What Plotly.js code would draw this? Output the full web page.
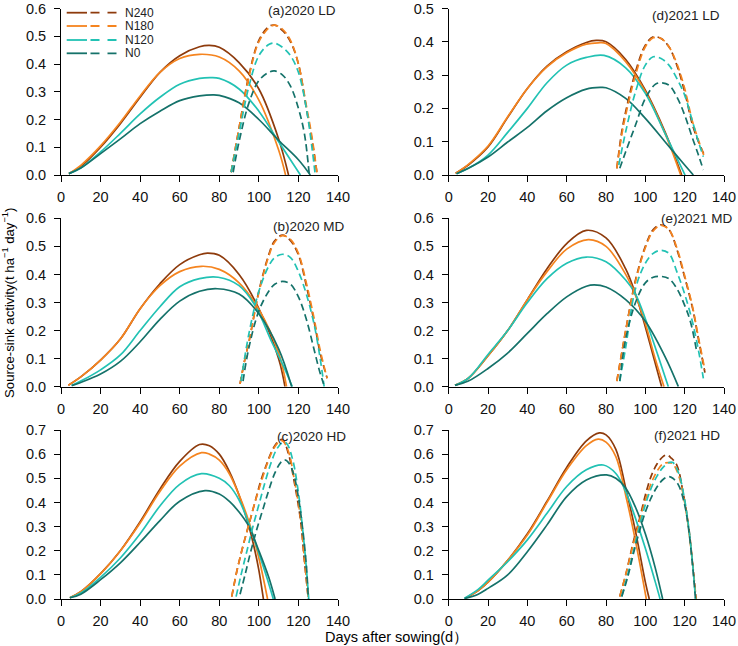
<!DOCTYPE html>
<html>
<head>
<meta charset="utf-8">
<script src="https://cdn.plot.ly/plotly-3.0.1.min.js"></script>
<style>html,body{margin:0;padding:0;background:#fff;}#chart{width:738px;height:646px;}</style>
</head>
<body>
<div id="chart"></div>
<script>
// ---------- series meta ----------
const nLevels = ['N240', 'N180', 'N120', 'N0'];
const lineColors = ['#8E3B0C', '#F5841F', '#22C2B4', '#15726A'];
const xTicks = [0, 20, 40, 60, 80, 100, 120, 140];
const yTicks05 = [0, 0.1, 0.2, 0.3, 0.4, 0.5];
const yTicks06 = [0, 0.1, 0.2, 0.3, 0.4, 0.5, 0.6];
const yTicks07 = [0, 0.1, 0.2, 0.3, 0.4, 0.5, 0.6, 0.7];

// ---------- (a) 2020 LD ----------
const a_src_N240_d = [4,10,20,30,40,50,60,70,75,80,90,100,110,115];
const a_src_N240_v = [0.005,0.03,0.10,0.185,0.28,0.37,0.43,0.462,0.467,0.46,0.405,0.31,0.13,0.0];
const a_src_N180_d = [4,10,20,30,40,50,60,70,80,90,100,110,113.5];
const a_src_N180_v = [0.005,0.035,0.105,0.19,0.285,0.37,0.42,0.435,0.425,0.375,0.27,0.09,0.0];
const a_src_N120_d = [4,10,20,30,40,50,60,70,76,80,90,100,110,121];
const a_src_N120_v = [0.005,0.025,0.083,0.15,0.22,0.28,0.327,0.348,0.351,0.348,0.31,0.23,0.12,0.0];
const a_src_N0_d = [4,10,20,30,40,50,60,70,77,80,90,100,110,120,126];
const a_src_N0_v = [0.005,0.025,0.077,0.13,0.185,0.23,0.268,0.285,0.289,0.287,0.26,0.20,0.125,0.055,0.0];
const a_snk_N240_d = [86,90,95,100,105,108,112,116,120,124,127,129.5];
const a_snk_N240_v = [0.01,0.17,0.36,0.485,0.535,0.54,0.52,0.48,0.40,0.24,0.12,0.0];
const a_snk_N180_d = [86,90,95,100,105,108,112,116,120,124,127,129.5];
const a_snk_N180_v = [0.01,0.17,0.355,0.48,0.53,0.54,0.525,0.485,0.40,0.25,0.13,0.0];
const a_snk_N120_d = [86,90,95,100,105,108,112,116,120,124,127,128.5];
const a_snk_N120_v = [0.01,0.15,0.32,0.43,0.47,0.475,0.46,0.43,0.37,0.24,0.09,0.0];
const a_snk_N0_d = [87,90,95,100,105,108,112,116,120,123,125.5];
const a_snk_N0_v = [0.01,0.12,0.26,0.34,0.37,0.375,0.36,0.32,0.24,0.15,0.0];

// ---------- (d) 2021 LD ----------
const d_src_N240_d = [3.5,10,20,30,40,50,60,70,75,80,90,100,110,118.5];
const d_src_N240_v = [0.005,0.03,0.084,0.173,0.26,0.327,0.37,0.398,0.404,0.40,0.347,0.255,0.13,0.0];
const d_src_N180_d = [3.5,10,20,30,40,50,60,70,76,80,90,100,110,118];
const d_src_N180_v = [0.005,0.032,0.087,0.175,0.26,0.325,0.367,0.393,0.397,0.395,0.34,0.25,0.125,0.0];
const d_src_N120_d = [4,10,20,30,40,50,60,70,79,90,100,110,120.2];
const d_src_N120_v = [0.004,0.02,0.06,0.128,0.20,0.277,0.33,0.353,0.359,0.322,0.245,0.125,0.0];
const d_src_N0_d = [4,10,20,30,40,50,60,70,77,80,90,100,110,120,124.4];
const d_src_N0_v = [0.004,0.02,0.054,0.099,0.143,0.193,0.232,0.258,0.263,0.262,0.23,0.17,0.10,0.03,0.0];
const d_snk_N240_d = [85.5,88,90,95,100,104,108,112,116,120,124,127,130];
const d_snk_N240_v = [0.02,0.13,0.19,0.31,0.39,0.415,0.41,0.385,0.33,0.25,0.15,0.10,0.06];
const d_snk_N180_d = [85.5,88,90,95,100,104,108,112,116,120,124,127,130];
const d_snk_N180_v = [0.02,0.12,0.18,0.30,0.385,0.412,0.41,0.385,0.335,0.26,0.16,0.105,0.055];
const d_snk_N120_d = [86.5,90,95,100,104,108,112,116,120,124,127,129.5];
const d_snk_N120_v = [0.03,0.13,0.25,0.33,0.355,0.35,0.33,0.29,0.24,0.16,0.10,0.055];
const d_snk_N0_d = [87,90,95,100,105,108,112,116,120,124,127,129.5];
const d_snk_N0_v = [0.02,0.07,0.15,0.23,0.272,0.277,0.27,0.235,0.18,0.11,0.06,0.015];

// ---------- (b) 2020 MD ----------
const b_src_N240_d = [3.7,10,20,30,40,50,60,70,74,80,90,100,110,113.2];
const b_src_N240_v = [0.005,0.035,0.095,0.17,0.278,0.367,0.435,0.47,0.476,0.468,0.40,0.278,0.10,0.0];
const b_src_N180_d = [3.7,10,20,30,40,50,60,71,80,90,100,110,114];
const b_src_N180_v = [0.005,0.035,0.095,0.17,0.278,0.36,0.41,0.429,0.418,0.37,0.275,0.12,0.0];
const b_src_N120_d = [5.4,10,20,30,40,50,60,70,79.5,90,98,106.5,112,116.9];
const b_src_N120_v = [0.004,0.02,0.06,0.113,0.20,0.285,0.356,0.385,0.39,0.36,0.29,0.16,0.08,0.0];
const b_src_N0_d = [5.4,10,20,30,40,50,60,70,79,90,100,110,116.6];
const b_src_N0_v = [0.004,0.015,0.045,0.09,0.16,0.24,0.305,0.34,0.349,0.33,0.26,0.135,0.0];
const b_snk_N240_d = [90.5,93,95,100,105,108,112,116,120,124,128,131,134.5];
const b_snk_N240_v = [0.01,0.10,0.16,0.34,0.47,0.52,0.54,0.52,0.47,0.36,0.23,0.12,0.03];
const b_snk_N180_d = [90.5,93,95,100,105,108,112,116,120,124,128,131,134.5];
const b_snk_N180_v = [0.01,0.10,0.16,0.335,0.465,0.515,0.538,0.525,0.475,0.37,0.24,0.13,0.03];
const b_snk_N120_d = [91,95,100,105,108,112,116,120,124,128,131,133];
const b_snk_N120_v = [0.02,0.19,0.34,0.43,0.46,0.472,0.46,0.41,0.33,0.22,0.10,0.0];
const b_snk_N0_d = [92,95,100,105,108,112,116,120,124,128,130.5,132.7];
const b_snk_N0_v = [0.02,0.14,0.27,0.34,0.365,0.375,0.365,0.32,0.24,0.13,0.06,0.01];

// ---------- (e) 2021 MD ----------
const e_src_N240_d = [3.2,10,20,30,40,50,60,70,80,90,95,100,104,108.3];
const e_src_N240_v = [0.005,0.03,0.11,0.20,0.31,0.42,0.51,0.557,0.53,0.42,0.33,0.213,0.11,0.0];
const e_src_N180_d = [3.2,10,20,30,40,50,60,71,80,90,95,100,105,109.5];
const e_src_N180_v = [0.005,0.03,0.11,0.20,0.31,0.41,0.49,0.524,0.50,0.40,0.325,0.225,0.10,0.0];
const e_src_N120_d = [3.2,10,20,30,40,50,60,70,80,90,95,100,106,111.7];
const e_src_N120_v = [0.005,0.03,0.115,0.20,0.30,0.385,0.44,0.462,0.445,0.38,0.33,0.242,0.12,0.0];
const e_src_N0_d = [3.2,10,20,30,40,50,60,70,74,80,90,100,110,116.8];
const e_src_N0_v = [0.005,0.02,0.065,0.12,0.19,0.26,0.32,0.358,0.363,0.355,0.31,0.233,0.107,0.0];
const e_snk_N240_d = [85.5,88,90,95,100,104,108,112,116,120,124,127,130.3];
const e_snk_N240_v = [0.02,0.12,0.20,0.38,0.50,0.56,0.577,0.56,0.49,0.39,0.28,0.17,0.05];
const e_snk_N180_d = [85.5,88,90,95,100,104,108,112,116,120,124,127,130.3];
const e_snk_N180_v = [0.02,0.12,0.20,0.375,0.495,0.555,0.575,0.56,0.495,0.395,0.285,0.175,0.06];
const e_snk_N120_d = [87,90,95,100,104,108,112,116,120,124,127,129.5];
const e_snk_N120_v = [0.02,0.14,0.35,0.44,0.475,0.486,0.475,0.41,0.33,0.23,0.13,0.03];
const e_snk_N0_d = [87,90,95,100,104,108,112,116,120,123,126];
const e_snk_N0_v = [0.02,0.17,0.30,0.37,0.39,0.393,0.385,0.35,0.29,0.23,0.13];

// ---------- (c) 2020 HD ----------
const c_src_N240_d = [4.5,10,20,30,40,50,60,70,75,80,85,90,95,98,100,102.3];
const c_src_N240_v = [0.005,0.03,0.105,0.2,0.32,0.455,0.57,0.64,0.635,0.60,0.53,0.43,0.30,0.2,0.12,0.0];
const c_src_N180_d = [4.5,10,20,30,40,50,60,71,75,80,85,90,95,100,104.4];
const c_src_N180_v = [0.005,0.03,0.105,0.2,0.315,0.445,0.55,0.606,0.60,0.575,0.52,0.43,0.32,0.17,0.0];
const c_src_N120_d = [4.5,10,20,30,40,50,60,71,80,85,90,95,100,104,107.3];
const c_src_N120_v = [0.005,0.025,0.09,0.17,0.27,0.385,0.475,0.519,0.50,0.47,0.41,0.31,0.19,0.09,0.0];
const c_src_N0_d = [4.5,10,20,30,40,50,60,72.8,80,85,90,95,100,105,108.2];
const c_src_N0_v = [0.005,0.02,0.08,0.15,0.235,0.325,0.405,0.449,0.435,0.405,0.36,0.30,0.20,0.09,0.0];
const c_snk_N240_d = [86.3,89,92,95,98,101,104,107,110,112,115,118,121,123,125];
const c_snk_N240_v = [0.01,0.12,0.22,0.31,0.40,0.49,0.56,0.62,0.655,0.66,0.60,0.48,0.33,0.16,0.0];
const c_snk_N180_d = [86.3,89,92,95,98,101,104,107,110,112,115,118,121,123,125];
const c_snk_N180_v = [0.01,0.12,0.22,0.31,0.40,0.48,0.555,0.615,0.65,0.655,0.61,0.49,0.34,0.17,0.0];
const c_snk_N120_d = [88.5,91,94,97,100,103,106,109,112,114,117,120,122,124,125.2];
const c_snk_N120_v = [0.01,0.1,0.2,0.3,0.39,0.48,0.56,0.62,0.648,0.645,0.58,0.44,0.3,0.13,0.0];
const c_snk_N0_d = [90.5,93,96,99,102,105,108,111,113,115,117.5,120,122,124,125];
const c_snk_N0_v = [0.02,0.1,0.2,0.29,0.37,0.45,0.52,0.565,0.576,0.565,0.52,0.42,0.3,0.14,0.0];

// ---------- (f) 2021 HD ----------
const f_src_N240_d = [8.5,15,20,30,40,50,60,70,76.6,80,85,90,95,100,102];
const f_src_N240_v = [0.003,0.035,0.07,0.16,0.27,0.405,0.545,0.655,0.688,0.68,0.62,0.46,0.28,0.07,0.0];
const f_src_N180_d = [8.5,15,20,30,40,50,60,70,76,80,85,90,95,100.5];
const f_src_N180_v = [0.003,0.035,0.07,0.16,0.265,0.40,0.535,0.635,0.662,0.65,0.59,0.43,0.24,0.0];
const f_src_N120_d = [8,15,20,30,40,50,60,70,78.6,85,90,95,100,105,107.5];
const f_src_N120_v = [0.003,0.04,0.078,0.155,0.245,0.355,0.466,0.535,0.555,0.52,0.445,0.334,0.21,0.072,0.0];
const f_src_N0_d = [8,15,20,30,40,50,60,70,80.3,85,90,95,100,105,108.8];
const f_src_N0_v = [0.002,0.02,0.044,0.10,0.196,0.307,0.424,0.493,0.514,0.50,0.46,0.38,0.27,0.13,0.0];
const f_snk_N240_d = [87,90,94,97,100,103,106,109,111,113,116,119,122,124,125.8];
const f_snk_N240_v = [0.01,0.1,0.24,0.33,0.43,0.51,0.56,0.59,0.597,0.585,0.555,0.45,0.3,0.15,0.0];
const f_snk_N180_d = [87,90,94,97,100,103,106,109,112,114,117,120,122,124,125.8];
const f_snk_N180_v = [0.01,0.1,0.23,0.32,0.41,0.48,0.53,0.56,0.565,0.56,0.51,0.4,0.29,0.15,0.0];
const f_snk_N120_d = [88,91,94,97,100,103,106,109,112,114,117,120,122,124,125.5];
const f_snk_N120_v = [0.01,0.1,0.2,0.3,0.39,0.46,0.51,0.545,0.565,0.565,0.52,0.41,0.3,0.15,0.0];
const f_snk_N0_d = [88,91,94,97,100,103,106,109,112,114,117,120,122,124,125.5];
const f_snk_N0_v = [0.01,0.09,0.19,0.28,0.36,0.42,0.465,0.495,0.507,0.5,0.47,0.39,0.29,0.14,0.0];

// ---------- panel labels / y axes ----------
const panelLabels = ['(a)2020 LD', '(d)2021 LD', '(b)2020 MD', '(e)2021 MD', '(c)2020 HD', '(f)2021 HD'];
const yTickSets = [yTicks06, yTicks05, yTicks06, yTicks06, yTicks07, yTicks07];

// ---------- assemble ----------
const panels = [
  {src: [[a_src_N240_d,a_src_N240_v],[a_src_N180_d,a_src_N180_v],[a_src_N120_d,a_src_N120_v],[a_src_N0_d,a_src_N0_v]],
   snk: [[a_snk_N240_d,a_snk_N240_v],[a_snk_N180_d,a_snk_N180_v],[a_snk_N120_d,a_snk_N120_v],[a_snk_N0_d,a_snk_N0_v]]},
  {src: [[d_src_N240_d,d_src_N240_v],[d_src_N180_d,d_src_N180_v],[d_src_N120_d,d_src_N120_v],[d_src_N0_d,d_src_N0_v]],
   snk: [[d_snk_N240_d,d_snk_N240_v],[d_snk_N180_d,d_snk_N180_v],[d_snk_N120_d,d_snk_N120_v],[d_snk_N0_d,d_snk_N0_v]]},
  {src: [[b_src_N240_d,b_src_N240_v],[b_src_N180_d,b_src_N180_v],[b_src_N120_d,b_src_N120_v],[b_src_N0_d,b_src_N0_v]],
   snk: [[b_snk_N240_d,b_snk_N240_v],[b_snk_N180_d,b_snk_N180_v],[b_snk_N120_d,b_snk_N120_v],[b_snk_N0_d,b_snk_N0_v]]},
  {src: [[e_src_N240_d,e_src_N240_v],[e_src_N180_d,e_src_N180_v],[e_src_N120_d,e_src_N120_v],[e_src_N0_d,e_src_N0_v]],
   snk: [[e_snk_N240_d,e_snk_N240_v],[e_snk_N180_d,e_snk_N180_v],[e_snk_N120_d,e_snk_N120_v],[e_snk_N0_d,e_snk_N0_v]]},
  {src: [[c_src_N240_d,c_src_N240_v],[c_src_N180_d,c_src_N180_v],[c_src_N120_d,c_src_N120_v],[c_src_N0_d,c_src_N0_v]],
   snk: [[c_snk_N240_d,c_snk_N240_v],[c_snk_N180_d,c_snk_N180_v],[c_snk_N120_d,c_snk_N120_v],[c_snk_N0_d,c_snk_N0_v]]},
  {src: [[f_src_N240_d,f_src_N240_v],[f_src_N180_d,f_src_N180_v],[f_src_N120_d,f_src_N120_v],[f_src_N0_d,f_src_N0_v]],
   snk: [[f_snk_N240_d,f_snk_N240_v],[f_snk_N180_d,f_snk_N180_v],[f_snk_N120_d,f_snk_N120_v],[f_snk_N0_d,f_snk_N0_v]]}
];

const W = 738, H = 646;
const colDom = [[61 / W, 338 / W], [448.7 / W, 724 / W]];
const rowPx = [[8.5, 175], [218.3, 386.7], [430, 599]];
const rowDom = rowPx.map(r => [(H - r[1]) / H, (H - r[0]) / H]);
const FONT = 'Liberation Sans, Arial, sans-serif';

const traces = [];
const layout = {
  width: W, height: H,
  margin: {l: 0, r: 0, t: 0, b: 0},
  paper_bgcolor: '#fff', plot_bgcolor: 'rgba(0,0,0,0)',
  showlegend: false,
  font: {family: FONT, color: '#000', size: 14},
  shapes: [], annotations: []
};

panels.forEach((p, k) => {
  const ax = k + 1;
  const row = Math.floor(k / 2), col = k % 2;
  const xn = ax === 1 ? 'x' : 'x' + ax, yn = ax === 1 ? 'y' : 'y' + ax;
  const xk = ax === 1 ? 'xaxis' : 'xaxis' + ax, yk = ax === 1 ? 'yaxis' : 'yaxis' + ax;
  nLevels.forEach((lv, i) => {
    traces.push({type: 'scatter', mode: 'lines', x: p.src[i][0], y: p.src[i][1], xaxis: xn, yaxis: yn,
      name: lv, line: {color: lineColors[i], width: 1.7, shape: 'spline', smoothing: 1}});
  });
  nLevels.forEach((lv, i) => {
    traces.push({type: 'scatter', mode: 'lines', x: p.snk[i][0], y: p.snk[i][1], xaxis: xn, yaxis: yn,
      name: lv, line: {color: lineColors[i], width: 1.7, dash: '7px,4px', shape: 'spline', smoothing: 1}});
  });
  const ticks = yTickSets[k];
  layout[xk] = {domain: colDom[col], anchor: yn, range: [0, 140], tickmode: 'array', tickvals: xTicks,
    ticktext: xTicks.map(String), ticks: 'outside', ticklen: 6, ticklabelstandoff: 3, ticklabeloverflow: 'allow',
    tickwidth: 1, tickcolor: '#000', showline: true, linecolor: '#000', linewidth: 1, showgrid: false, zeroline: false,
    tickfont: {size: 14.5, family: FONT, color: '#111'}, fixedrange: true};
  layout[yk] = {domain: rowDom[row], anchor: xn, range: [0, ticks[ticks.length - 1] + 1e-9], tickmode: 'array',
    tickvals: ticks, ticktext: ticks.map(v => v.toFixed(1)), ticklabeloverflow: 'allow',
    ticks: 'outside', ticklen: 6, ticklabelstandoff: 5, tickwidth: 1, tickcolor: '#000', showline: true,
    linecolor: '#000', linewidth: 1, showgrid: false, zeroline: false,
    tickfont: {size: 14.5, family: FONT, color: '#111'}, fixedrange: true};
});

// panel labels
const labelPos = [[338, 11], [722, 15.7], [347, 226.7], [735, 219], [348, 436.7], [722, 435]];
panelLabels.forEach((t, k) => {
  layout.annotations.push({text: t, xref: 'paper', yref: 'paper', x: labelPos[k][0] / W, y: 1 - labelPos[k][1] / H,
    xanchor: 'right', yanchor: 'middle', showarrow: false, font: {size: 13.5, family: FONT, color: '#222'}});
});

// legend (inside panel a)
const legRows = [12.7, 26, 40, 53.3];
nLevels.forEach((lv, i) => {
  const yp = 1 - legRows[i] / H;
  layout.shapes.push({type: 'line', xref: 'paper', yref: 'paper', x0: 66.7 / W, x1: 87 / W, y0: yp, y1: yp,
    line: {color: lineColors[i], width: 1.8}});
  layout.shapes.push({type: 'line', xref: 'paper', yref: 'paper', x0: 90.5 / W, x1: 120 / W, y0: yp, y1: yp,
    line: {color: lineColors[i], width: 1.8, dash: '9px,8px'}});
  layout.annotations.push({text: lv, xref: 'paper', yref: 'paper', x: 122.5 / W, y: yp, xanchor: 'left', yanchor: 'middle',
    showarrow: false, font: {size: 12, family: FONT, color: '#222'}});
});

// axis titles
layout.annotations.push({text: 'Source-sink activity(t ha<sup>\u22121</sup> day<sup>\u22121</sup>)', xref: 'paper', yref: 'paper',
  x: 8 / W, y: 1 - 303 / H, textangle: -90, xanchor: 'center', yanchor: 'middle', showarrow: false,
  font: {size: 13.2, family: FONT, color: '#000'}});
layout.annotations.push({text: 'Days after sowing(d\uFF09', xref: 'paper', yref: 'paper',
  x: 396 / W, y: 1 - 637 / H, xanchor: 'center', yanchor: 'middle', showarrow: false,
  font: {size: 14.5, family: FONT, color: '#000'}});

Plotly.newPlot('chart', traces, layout, {staticPlot: true, displayModeBar: false});
</script>
</body>
</html>
